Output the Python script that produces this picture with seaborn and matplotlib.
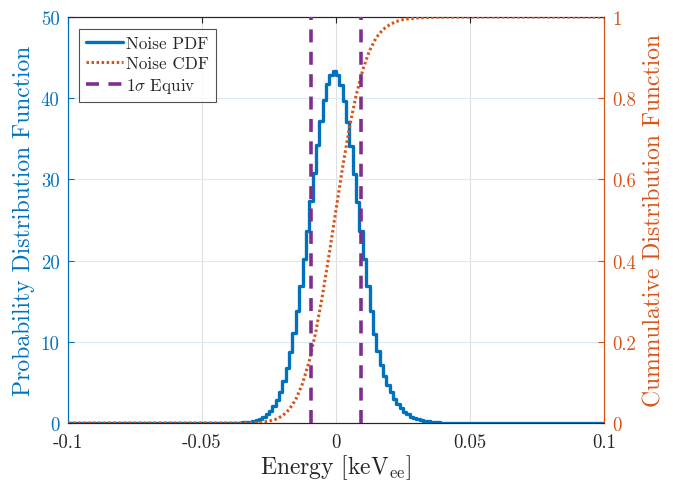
import numpy as np
import pandas as pd
import matplotlib
matplotlib.use("Agg")
import matplotlib.pyplot as plt
import seaborn as sns
from matplotlib.lines import Line2D

# ---------------- data ----------------
BIN_WIDTH = 0.00125
X_MIN, X_MAX = -0.1, 0.1
PDF_FIRST_LEFT = -0.03875   # left edge of the first non-empty bin

pdf_values = [
    0.02, 0.03, 0.045, 0.07, 0.11, 0.17, 0.25, 0.36, 0.52, 0.75,
    1.05, 1.46, 2.05, 2.85, 3.85, 5.2, 6.8, 8.8, 11.1, 13.8,
    16.9, 20.2, 23.7, 27.3, 30.8, 34.2, 37.2, 39.8, 41.7, 42.9,
    43.4,
    42.8, 41.6, 39.7, 37.1, 34.1, 30.7, 27.2, 23.7, 20.2, 16.9,
    13.8, 11.0, 8.9, 7.2, 5.8, 4.7, 3.8, 3.0, 2.4, 1.85,
    1.4, 1.05, 0.8, 0.6, 0.45, 0.35, 0.27, 0.2, 0.15, 0.11,
    0.08, 0.06, 0.045, 0.03, 0.02, 0.015, 0.01,
]

cdf_x = [-0.1, -0.04, -0.0375, -0.035, -0.0325, -0.03, -0.0275, -0.025, -0.0225,
         -0.02, -0.0175, -0.015, -0.0125, -0.01, -0.0075, -0.005, -0.0025, 0.0,
         0.0025, 0.005, 0.0075, 0.01, 0.0125, 0.015, 0.0175, 0.02, 0.0225, 0.025,
         0.0275, 0.03, 0.0325, 0.035, 0.0375, 0.04, 0.045, 0.05, 0.1]
cdf_y = [0.0, 0.0, 0.0001, 0.0002, 0.0004, 0.0009, 0.002, 0.0045, 0.009,
         0.0175, 0.033, 0.058, 0.097, 0.152, 0.226, 0.316, 0.418, 0.525,
         0.631, 0.727, 0.807, 0.870, 0.917, 0.949, 0.969, 0.981, 0.989, 0.9935,
         0.996, 0.9975, 0.9985, 0.9991, 0.9995, 0.9997, 0.9999, 1.0, 1.0]

sigma_lines = [-0.0095, 0.0095]

x_ticks = [-0.1, -0.05, 0, 0.05, 0.1]
x_tick_labels = ["-0.1", "-0.05", "0", "0.05", "0.1"]
pdf_ticks = [0, 10, 20, 30, 40, 50]
pdf_tick_labels = ["0", "10", "20", "30", "40", "50"]
cdf_ticks = [0, 0.2, 0.4, 0.6, 0.8, 1.0]
cdf_tick_labels = ["0", "0.2", "0.4", "0.6", "0.8", "1"]

legend_labels = ["Noise PDF", "Noise CDF", r"1$\sigma$ Equiv"]

# ---------------- style ----------------
BLUE = "#0072BD"
ORANGE = "#D95319"
PURPLE = "#7E2F8E"
DARK = "#262626"
CDF_STYLE = (0, (0.8, 0.85))
SIGMA_STYLE = (0, (3.6, 2.6))

sns.set_theme(style="white")
plt.rcParams.update({
    "font.family": "serif",
    "font.serif": ["cmr10"],
    "mathtext.fontset": "cm",
    "axes.formatter.use_mathtext": True,
    "axes.unicode_minus": False,
})

# stairs data for the histogram
edges = np.round(np.arange(X_MIN, X_MAX + BIN_WIDTH / 2, BIN_WIDTH), 6)
heights = np.zeros(len(edges) - 1)
start = int(round((PDF_FIRST_LEFT - X_MIN) / BIN_WIDTH))
heights[start:start + len(pdf_values)] = pdf_values
df_pdf = pd.DataFrame({"energy": edges, "pdf": np.append(heights, heights[-1])})
df_cdf = pd.DataFrame({"energy": cdf_x, "cdf": cdf_y})

fig = plt.figure(figsize=(6.73, 4.81), dpi=100)
ax = fig.add_axes([68 / 673, 1 - 424 / 481, (604 - 68) / 673, (424 - 18) / 481])
ax2 = ax.twinx()

# grid (drawn on the left axes)
for xv in x_ticks:
    ax.axvline(xv, color="#DFDFDF", lw=0.8, zorder=0)
for yv in pdf_ticks:
    ax.axhline(yv, color="#DCEAF4", lw=0.8, zorder=0)

sns.lineplot(data=df_pdf, x="energy", y="pdf", ax=ax, color=BLUE, lw=2.4,
             drawstyle="steps-post", estimator=None, sort=False, zorder=3)
sns.lineplot(data=df_cdf, x="energy", y="cdf", ax=ax2, color=ORANGE, lw=2.2,
             linestyle=CDF_STYLE, estimator=None, sort=False, zorder=3)
for xv in sigma_lines:
    ax2.axvline(xv, color=PURPLE, lw=2.6, linestyle=SIGMA_STYLE, zorder=4)

ax.set_xlim(X_MIN, X_MAX)
ax.set_ylim(0, 50)
ax2.set_ylim(0, 1)

ax.set_xticks(x_ticks)
ax.set_xticklabels(x_tick_labels)
ax.set_yticks(pdf_ticks)
ax.set_yticklabels(pdf_tick_labels)
ax2.set_yticks(cdf_ticks)
ax2.set_yticklabels(cdf_tick_labels)

ax.tick_params(axis="x", direction="in", length=4, width=0.8, colors=DARK,
               labelsize=13.5, top=True, pad=7)
ax.tick_params(axis="y", direction="in", length=4, width=0.8, colors=BLUE,
               labelsize=13.5, right=False, pad=6)
ax2.tick_params(axis="y", direction="in", length=4, width=0.8, colors=ORANGE,
                labelsize=13.5, left=False, pad=6)
ax2.tick_params(axis="x", top=False, bottom=False)

for a in (ax, ax2):
    for s in a.spines.values():
        s.set_linewidth(0.8)
    a.spines["top"].set_color(DARK)
    a.spines["bottom"].set_color(DARK)
    a.spines["left"].set_color(BLUE)
    a.spines["right"].set_color(ORANGE)

ax.set_xlabel(r"Energy [keV$_{\rm ee}$]", fontsize=17, color=DARK, labelpad=1)
ax.set_ylabel("Probability Distribution Function", fontsize=17, color=BLUE, labelpad=4)
ax2.set_ylabel("Cummulative Distribution Function", fontsize=17, color=ORANGE, labelpad=5)

handles = [
    Line2D([], [], color=BLUE, lw=2.4),
    Line2D([], [], color=ORANGE, lw=2.2, linestyle=CDF_STYLE),
    Line2D([], [], color=PURPLE, lw=2.6, linestyle=SIGMA_STYLE),
]
leg = ax2.legend(handles, legend_labels, loc="upper left",
                 bbox_to_anchor=((79 - 68) / 536, (424 - 30) / 406),
                 borderaxespad=0, fontsize=12.3, frameon=True, fancybox=False,
                 edgecolor=DARK, handlelength=2.2, handletextpad=0.15,
                 labelspacing=0.28, borderpad=0.4)
leg.get_frame().set_linewidth(0.8)
leg.set_zorder(10)

fig.savefig("out.png", dpi=100)
